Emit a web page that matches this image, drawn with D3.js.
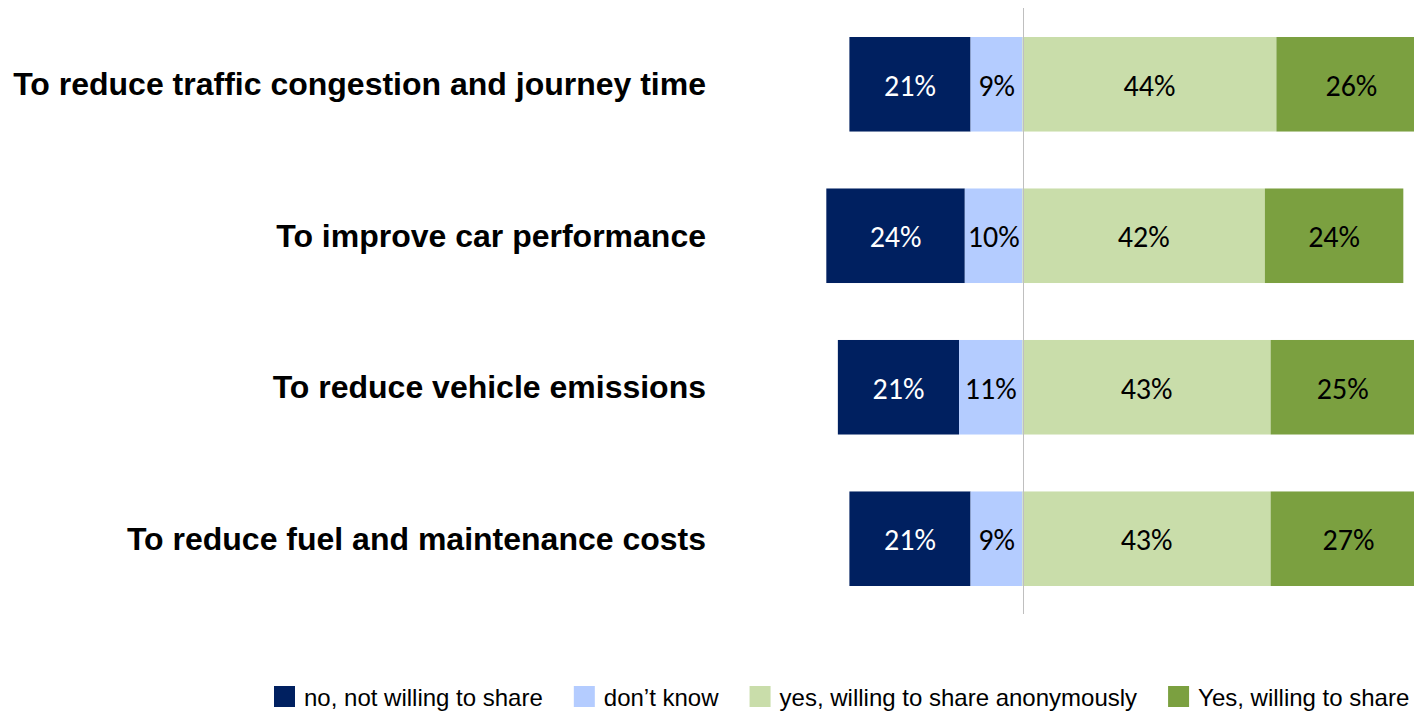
<!DOCTYPE html>
<html><head><meta charset="utf-8">
<script src="https://cdn.jsdelivr.net/npm/d3@7"></script>
<style>body{margin:0;background:#fff}svg{display:block}</style>
</head><body>
<svg id="c" width="1414" height="711"></svg>
<script>
const categories = ["To reduce traffic congestion and journey time","To improve car performance","To reduce vehicle emissions","To reduce fuel and maintenance costs"];
const seriesNames = ["no, not willing to share","don\u2019t know","yes, willing to share anonymously","Yes, willing to share"];
const noShare = [21,24,21,21];
const dontKnow = [9,10,11,9];
const yesAnon = [44,42,43,43];
const yesShare = [26,24,25,27];
const colors = ["#002060","#B4CCFF","#C9DDAA","#7BA040"];
const textColors = ["#ffffff","#000000","#000000","#000000"];

const svg = d3.select("#c");
const x = d3.scaleLinear().domain([-40,60]).range([1022.5-230.8,1022.5+346.2]);
const y = d3.scaleBand().domain(categories).range([37,586]).paddingInner(0.376).paddingOuter(0);

const rows = categories.map((c,i)=>{
  const segs=[];
  segs.push({s:0,x0:-(noShare[i]+dontKnow[i]),x1:-dontKnow[i],v:noShare[i]});
  segs.push({s:1,x0:-dontKnow[i],x1:0,v:dontKnow[i]});
  segs.push({s:2,x0:0,x1:yesAnon[i],v:yesAnon[i]});
  segs.push({s:3,x0:yesAnon[i],x1:yesAnon[i]+yesShare[i],v:yesShare[i]});
  return {c,segs};
});

const g = svg.append("g");
rows.forEach(r=>{
  const row = g.append("g");
  row.selectAll("rect").data(r.segs).join("rect")
    .attr("x",d=>x(d.x0)).attr("width",d=>x(d.x1)-x(d.x0))
    .attr("y",y(r.c)).attr("height",y.bandwidth())
    .attr("fill",d=>colors[d.s]);
  row.selectAll("text").data(r.segs).join("text")
    .attr("x",d=>(x(d.x0)+x(d.x1))/2).attr("y",y(r.c)+y.bandwidth()/2+1)
    .attr("text-anchor","middle").attr("dominant-baseline","central")
    .attr("font-family","Carlito, Lato, sans-serif").attr("font-size",30)
    .attr("fill",d=>textColors[d.s]).text(d=>d.v+"%");
});

// center line
svg.append("line").attr("x1",Math.round(x(0))+0.5).attr("x2",Math.round(x(0))+0.5)
  .attr("y1",8).attr("y2",614).attr("stroke","#BFBFBF").attr("stroke-width",1);

// category labels
svg.selectAll("text.cat").data(categories).join("text").attr("class","cat")
  .attr("x",706).attr("y",d=>y(d)+y.bandwidth()/2)
  .attr("text-anchor","end").attr("dominant-baseline","central")
  .attr("font-family","Liberation Sans, Arial, sans-serif").attr("font-weight","bold")
  .attr("font-size",32).attr("fill","#000").text(d=>d);

// legend
const lg = svg.append("g");
let lx = 274;
seriesNames.forEach((n,i)=>{
  lg.append("rect").attr("x",lx).attr("y",686).attr("width",21).attr("height",21).attr("fill",colors[i]);
  const t = lg.append("text").attr("x",lx+30).attr("y",697).attr("dominant-baseline","central")
    .attr("font-family","Liberation Sans, Arial, sans-serif").attr("font-size",24).attr("fill","#000").text(n);
  lx += 30 + t.node().getComputedTextLength() + 31;
});
</script>
</body></html>
